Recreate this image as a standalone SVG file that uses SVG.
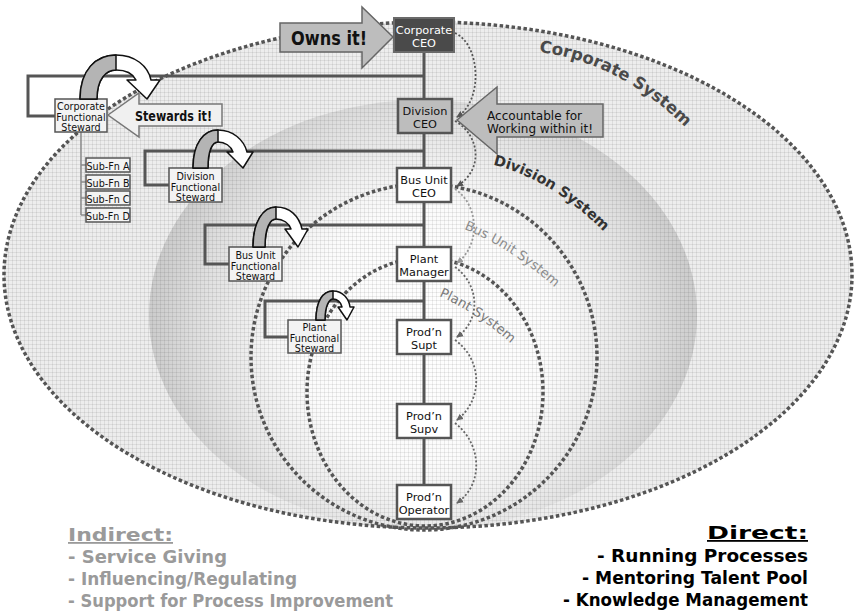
<svg xmlns="http://www.w3.org/2000/svg" width="855" height="612" viewBox="0 0 855 612">
  <defs>
    <style>
      text { font-family: "DejaVu Sans", Verdana, sans-serif; }
      .box { stroke: #555; stroke-width: 2.5; }
      .stw { fill: #f3f3f3; stroke: #555; stroke-width: 1.5; }
      .sub { fill: #f3f3f3; stroke: #555; stroke-width: 1.5; }
      .org { fill: none; stroke: #555; stroke-width: 3; }
      .t11 { font-size: 11.3px; text-anchor: middle; fill: #111; }
      .t10 { font-size: 9.6px; text-anchor: middle; fill: #111; }
      .ring { fill: none; stroke: #555; stroke-width: 3.5; stroke-dasharray: 3.5 2.5; }
      .flow { fill: none; stroke-width: 1.8; stroke-dasharray: 2 2; }
      .curl { fill: #fff; stroke: #111; stroke-width: 1.5; stroke-linejoin: round; }
      .curlback { fill: #b4b4b4; stroke: #111; stroke-width: 1.5; stroke-linejoin: round; }
      .call { stroke: #666; stroke-width: 1.5; }
      .sys { font-weight: bold; }
      .ind { font-size: 18px; font-weight: bold; fill: #9a9a9a; }
      .dir { font-size: 18px; font-weight: bold; fill: #000; text-anchor: end; }
    </style>
    <pattern id="grid" width="4" height="4" patternUnits="userSpaceOnUse">
      <path d="M0 0.5H4M0.5 0V4" stroke="#000" stroke-opacity="0.07" stroke-width="1"/>
    </pattern>
    <radialGradient id="divShade" gradientUnits="userSpaceOnUse" cx="425" cy="335" r="282">
      <stop offset="0" stop-color="#ffffff"/>
      <stop offset="0.45" stop-color="#fbfbfb"/>
      <stop offset="0.62" stop-color="#efefef"/>
      <stop offset="0.8" stop-color="#dfdfdf"/>
      <stop offset="0.93" stop-color="#d0d0d0"/>
      <stop offset="1" stop-color="#c9c9c9"/>
    </radialGradient>
    <clipPath id="corpClip">
      <ellipse cx="428" cy="275" rx="424" ry="253"/>
    </clipPath>
    <marker id="ahDark" markerWidth="8" markerHeight="8" refX="6" refY="4" orient="auto" markerUnits="userSpaceOnUse">
      <path d="M0,0.8 L7,4 L0,7.2 Z" fill="#555"/>
    </marker>
    <marker id="ahMid" markerWidth="8" markerHeight="8" refX="6" refY="4" orient="auto" markerUnits="userSpaceOnUse">
      <path d="M0,0.8 L7,4 L0,7.2 Z" fill="#666"/>
    </marker>
    <marker id="ahLight" markerWidth="8" markerHeight="8" refX="6" refY="4" orient="auto" markerUnits="userSpaceOnUse">
      <path d="M0,0.8 L7,4 L0,7.2 Z" fill="#999"/>
    </marker>
  </defs>

  <rect width="855" height="612" fill="#fff"/>

  <!-- nested systems -->
  <g id="systems">
    <ellipse cx="428" cy="275" rx="424" ry="253" fill="#ededed"/>
    <ellipse cx="423" cy="315" rx="274" ry="215" fill="url(#divShade)"/>
    <rect width="855" height="612" fill="url(#grid)" clip-path="url(#corpClip)"/>
    <ellipse cx="428" cy="275" rx="424" ry="253" class="ring" stroke-width="3" stroke-dasharray="3 2.5"/>
    <ellipse cx="424" cy="357" rx="173" ry="173" class="ring"/>
    <ellipse cx="425" cy="392" rx="118" ry="134" class="ring"/>
  </g>

  <!-- system labels -->
  <g id="system-labels">
    <path id="corpArc" d="M539,52 Q620,62 688,130" fill="none"/>
    <path id="divArc" d="M493,165 Q550,178 604,232" fill="none"/>
    <path id="busArc" d="M464,229 Q512,248 560,292" fill="none"/>
    <path id="plantArc" d="M439,296 Q480,314 518,350" fill="none"/>
    <text class="sys" font-size="16.5" fill="#4a4a4a"><textPath href="#corpArc">Corporate System</textPath></text>
    <text class="sys" font-size="14.5" fill="#333"><textPath href="#divArc">Division System</textPath></text>
    <text font-size="13.2" fill="#8c8c8c"><textPath href="#busArc">Bus Unit System</textPath></text>
    <text font-size="13.2" fill="#7a7a7a"><textPath href="#plantArc">Plant System</textPath></text>
  </g>

  <!-- reporting lines and flow connectors -->
  <g id="connectors">
    <path class="org" d="M424,52 V485"/>
    <path class="org" d="M424,76 H28 V116 H55"/>
    <path class="org" d="M424,151 H145 V185 H169"/>
    <path class="org" d="M424,225 H205 V264 H229"/>
    <path class="org" d="M424,301 H265 V337 H288"/>
    <path d="M81,132 V215 M81,165 H86 M81,182 H86 M81,198 H86 M81,215 H86" fill="none" stroke="#8a8a8a" stroke-width="1.5"/>

    <path class="flow" stroke="#555" d="M455,33 C480,44 484,100 457,117" marker-end="url(#ahDark)"/>
    <path class="flow" stroke="#555" d="M455,121 C480,135 484,170 457,186" marker-end="url(#ahDark)"/>
    <path class="flow" stroke="#999" d="M455,189 C479,205 481,245 457,263" marker-end="url(#ahLight)"/>
    <path class="flow" stroke="#666" d="M455,267 C480,285 481,320 457,337" marker-end="url(#ahMid)"/>
    <path class="flow" stroke="#666" d="M455,340 C483,360 483,400 457,420" marker-end="url(#ahMid)"/>
    <path class="flow" stroke="#666" d="M455,423 C483,445 483,485 457,503" marker-end="url(#ahMid)"/>
  </g>

  <!-- line organisation -->
  <g id="corporate-ceo">
    <rect x="394" y="18" width="60" height="34" fill="#4a4a4a" stroke="#6a6a6a" stroke-width="2"/>
    <text class="t11" x="424" y="34" font-size="10.5" style="fill:#fff">Corporate</text>
    <text class="t11" x="424" y="47" font-size="10.5" style="fill:#fff">CEO</text>
  </g>
  <g id="division-ceo">
    <rect class="box" x="398" y="99" width="54" height="34" fill="#bdbdbd"/>
    <text class="t11" x="425" y="115">Division</text>
    <text class="t11" x="425" y="128">CEO</text>
  </g>
  <g id="bus-unit-ceo">
    <rect class="box" x="397" y="168" width="54" height="34" fill="#fff"/>
    <text class="t11" x="424" y="184">Bus Unit</text>
    <text class="t11" x="424" y="197">CEO</text>
  </g>
  <g id="plant-manager">
    <rect class="box" x="397" y="247" width="54" height="34" fill="#fff"/>
    <text class="t11" x="424" y="263">Plant</text>
    <text class="t11" x="424" y="276">Manager</text>
  </g>
  <g id="prodn-supt">
    <rect class="box" x="397" y="320" width="54" height="34" fill="#fff"/>
    <text class="t11" x="424" y="336">Prod’n</text>
    <text class="t11" x="424" y="349">Supt</text>
  </g>
  <g id="prodn-supv">
    <rect class="box" x="397" y="404" width="54" height="34" fill="#fff"/>
    <text class="t11" x="424" y="420">Prod’n</text>
    <text class="t11" x="424" y="433">Supv</text>
  </g>
  <g id="prodn-operator">
    <rect class="box" x="397" y="485" width="54" height="34" fill="#fff"/>
    <text class="t11" x="424" y="501">Prod’n</text>
    <text class="t11" x="424" y="514">Operator</text>
  </g>

  <!-- functional stewards -->
  <g id="corporate-steward">
    <rect class="stw" x="55" y="99" width="52" height="33"/>
    <text class="t10" x="81" y="110">Corporate</text>
    <text class="t10" x="81" y="120.5">Functional</text>
    <text class="t10" x="81" y="131">Steward</text>
  </g>
  <g id="sub-fn-a">
    <rect class="sub" x="86" y="158" width="44" height="14"/>
    <text class="t10" x="108" y="170">Sub-Fn A</text>
  </g>
  <g id="sub-fn-b">
    <rect class="sub" x="86" y="175" width="44" height="14"/>
    <text class="t10" x="108" y="187">Sub-Fn B</text>
  </g>
  <g id="sub-fn-c">
    <rect class="sub" x="86" y="191" width="44" height="14"/>
    <text class="t10" x="108" y="203">Sub-Fn C</text>
  </g>
  <g id="sub-fn-d">
    <rect class="sub" x="86" y="208" width="44" height="14"/>
    <text class="t10" x="108" y="220">Sub-Fn D</text>
  </g>
  <g id="division-steward">
    <rect class="stw" x="169" y="168" width="53" height="34"/>
    <text class="t10" x="195.5" y="180">Division</text>
    <text class="t10" x="195.5" y="190.5">Functional</text>
    <text class="t10" x="195.5" y="201">Steward</text>
  </g>
  <g id="bus-unit-steward">
    <rect class="stw" x="229" y="247" width="53" height="34"/>
    <text class="t10" x="255.5" y="259">Bus Unit</text>
    <text class="t10" x="255.5" y="269.5">Functional</text>
    <text class="t10" x="255.5" y="280">Steward</text>
  </g>
  <g id="plant-steward">
    <rect class="stw" x="288" y="320" width="53" height="33"/>
    <text class="t10" x="314.5" y="331">Plant</text>
    <text class="t10" x="314.5" y="341.5">Functional</text>
    <text class="t10" x="314.5" y="352">Steward</text>
  </g>

  <!-- curling stewardship arrows -->
  <g id="steward-curls">
    <path class="curl" d="M80,99 C80,70 96,55 116,55 C135,55 148,66 151,80 L160,80 L147,99 L127,80 L136,80 C133,74 126,70 116,70 C106,70 97,79 97,99 Z"/>
    <path class="curlback" d="M80,99 C80,70 96,55 116,55 L116,70 C106,70 97,79 97,99 Z"/>
    <path class="curl" d="M193,168 C193,143 204,130 218,130 C233,130 244,140 247,152 L253,152 L243,168 L227,152 L233,152 C231,146 225,142 218,142 C212,142 208,151 208,168 Z"/>
    <path class="curlback" d="M193,168 C193,143 204,130 218,130 L218,142 C212,142 208,151 208,168 Z"/>
    <path class="curl" d="M253,247 C253,222 263,207 276,207 C290,207 299,216 302,229 L308,229 L298,247 L285,229 L291,229 C289,223 283,219 276,219 C270,219 265,228 265,247 Z"/>
    <path class="curlback" d="M253,247 C253,222 263,207 276,207 L276,219 C270,219 265,228 265,247 Z"/>
    <path class="curl" d="M316,320 C316,301 323,291 333,291 C343,291 349,299 350,307 L354,307 L347,320 L338,307 L342,307 C341,302 337,299 333,299 C329,299 325,306 325,320 Z"/>
    <path class="curlback" d="M316,320 C316,301 323,291 333,291 L333,299 C329,299 325,306 325,320 Z"/>
  </g>

  <!-- callouts -->
  <g id="owns-it">
    <path class="call" d="M280,23 H362 V7 L393,37 L362,68 V52 H280 Z" fill="#bdbdbd"/>
    <text x="291" y="45" font-size="19" font-weight="bold" fill="#111" textLength="76" lengthAdjust="spacingAndGlyphs">Owns it!</text>
  </g>
  <g id="stewards-it">
    <path d="M108,115 L139,93 V104 H222 V126 H139 V137 Z" fill="#f0f0f0" stroke="#777" stroke-width="1.5"/>
    <text x="135" y="121" font-size="13.5" font-weight="bold" fill="#111" textLength="77" lengthAdjust="spacingAndGlyphs">Stewards it!</text>
  </g>
  <g id="accountable">
    <path class="call" d="M457,120 L497,87 V104 H603 V137 H497 V154 Z" fill="#bdbdbd"/>
    <text x="487" y="120" font-size="12.5" fill="#111" textLength="95" lengthAdjust="spacingAndGlyphs">Accountable for</text>
    <text x="487" y="133" font-size="12.5" fill="#111" textLength="106" lengthAdjust="spacingAndGlyphs">Working within it!</text>
  </g>

  <!-- role lists -->
  <g id="indirect">
    <text class="ind" x="68" y="541" font-size="22" text-decoration="underline" textLength="105" lengthAdjust="spacingAndGlyphs">Indirect:</text>
    <text class="ind" x="68" y="563" textLength="159" lengthAdjust="spacingAndGlyphs">- Service Giving</text>
    <text class="ind" x="68" y="585" textLength="229" lengthAdjust="spacingAndGlyphs">- Influencing/Regulating</text>
    <text class="ind" x="68" y="607" textLength="325" lengthAdjust="spacingAndGlyphs">- Support for Process Improvement</text>
  </g>
  <g id="direct">
    <text class="dir" x="808" y="539" font-size="22" text-decoration="underline" textLength="101" lengthAdjust="spacingAndGlyphs">Direct:</text>
    <text class="dir" x="808" y="562" textLength="211" lengthAdjust="spacingAndGlyphs">- Running Processes</text>
    <text class="dir" x="808" y="584" textLength="226" lengthAdjust="spacingAndGlyphs">- Mentoring Talent Pool</text>
    <text class="dir" x="808" y="606" textLength="245" lengthAdjust="spacingAndGlyphs">- Knowledge Management</text>
  </g>
</svg>
